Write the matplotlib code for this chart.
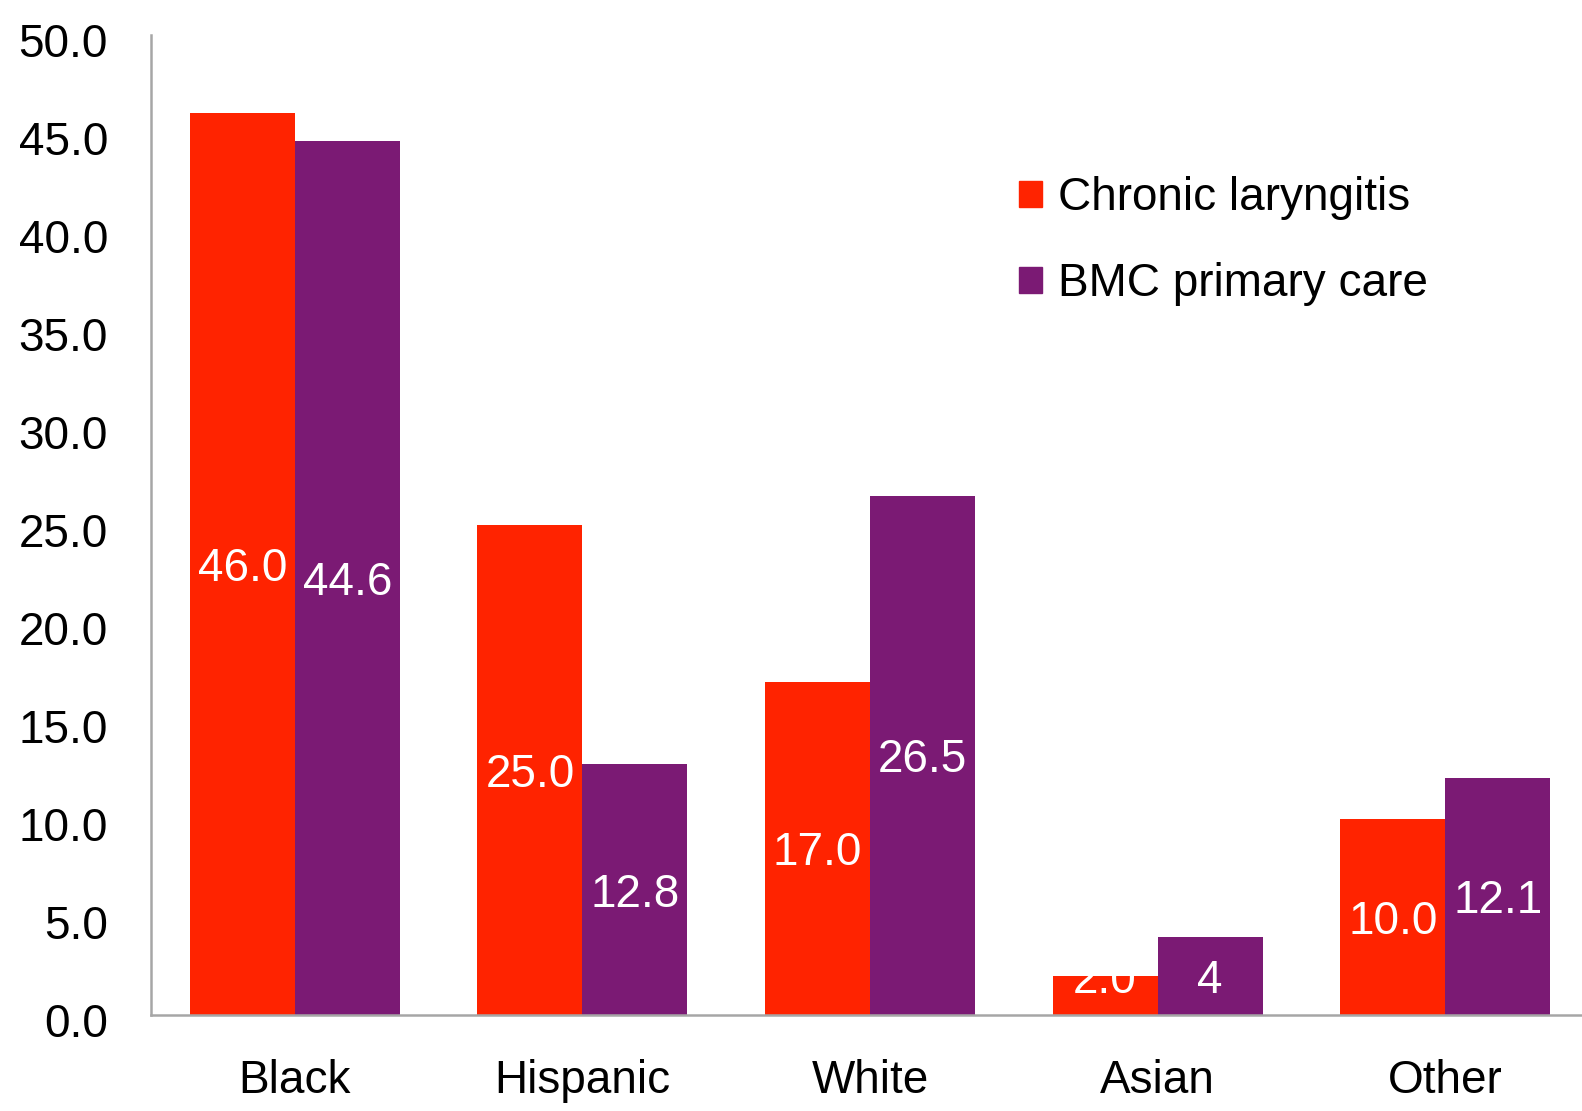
import matplotlib
matplotlib.use("Agg")
import matplotlib.pyplot as plt
import matplotlib.transforms as mtransforms
from matplotlib.patches import Patch
import numpy as np

plt.rcParams['font.family'] = ['Liberation Sans', 'DejaVu Sans']

categories = ['Black', 'Hispanic', 'White', 'Asian', 'Other']
laryngitis = [46.0, 25.0, 17.0, 2.0, 10.0]
primary_care = [44.6, 12.8, 26.5, 4.0, 12.1]
laryngitis_labels = ['46.0', '25.0', '17.0', '2.0', '10.0']
primary_care_labels = ['44.6', '12.8', '26.5', '4', '12.1']
series_names = ['Chronic laryngitis', 'BMC primary care']
yticks = [0, 5, 10, 15, 20, 25, 30, 35, 40, 45, 50]

red = '#FF2300'
purple = '#7B1A74'
grey = '#A6A6A6'

fig = plt.figure(figsize=(15.82, 11.11), dpi=100)
W, H = 1582, 1111
left, right, bottom, top = 151, 1589, 1015, 35
ax = fig.add_axes([left / W, 1 - bottom / H, (right - left) / W, (bottom - top) / H])

x = np.arange(len(categories))
bw = 0.365
ax.bar(x - bw / 2, laryngitis, bw, color=red)
ax.bar(x + bw / 2, primary_care, bw, color=purple)

# small downward nudge, text in the source sits a bit low
nudge = mtransforms.ScaledTranslation(0, -5 / 100, fig.dpi_scale_trans)

# labels sit at mid-bar, but never lower than 2.0 (as in the source chart)
for xs, vals, labs in [(x - bw / 2, laryngitis, laryngitis_labels),
                       (x + bw / 2, primary_care, primary_care_labels)]:
    for xi, v, lab in zip(xs, vals, labs):
        ax.text(xi, max(v / 2, 2.0), lab, ha='center', va='center',
                color='white', fontsize=33, transform=ax.transData + nudge)

ax.set_xlim(-0.5, len(categories) - 0.5)
ax.set_ylim(0, 50)
ax.set_yticks(yticks)
ax.set_yticklabels([f'{t:.1f}' for t in yticks])
ax.set_xticks(x)
ax.set_xticklabels(categories)
ax.tick_params(axis='y', length=0, pad=31, labelsize=33)
ax.tick_params(axis='x', length=0, pad=32, labelsize=33)
for lbl in ax.get_yticklabels():
    lbl.set_transform(lbl.get_transform() + nudge)

for s in ['top', 'right']:
    ax.spines[s].set_visible(False)
for s in ['left', 'bottom']:
    ax.spines[s].set_color(grey)
    ax.spines[s].set_linewidth(1.8)

handles = [Patch(color=red), Patch(color=purple)]
fig.legend(handles, series_names, loc='upper left',
           bbox_to_anchor=(1019 / W, 1 - 176 / H), frameon=False,
           fontsize=33, handlelength=0.5, handleheight=0.5,
           handletextpad=0.35, labelspacing=0.92, borderpad=0,
           borderaxespad=0)

fig.savefig('out.png', dpi=100)
